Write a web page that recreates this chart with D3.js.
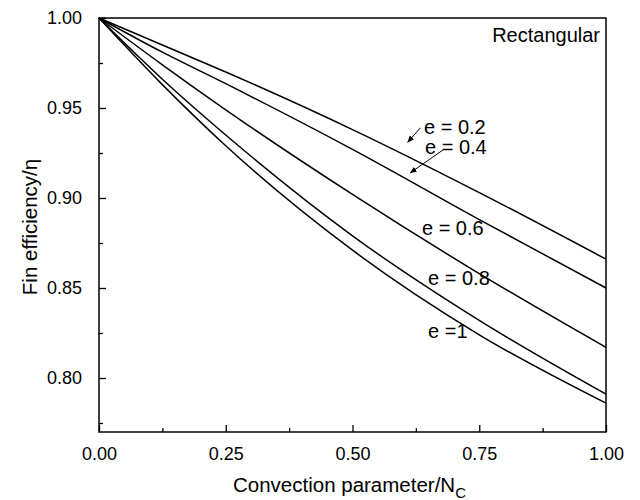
<!DOCTYPE html>
<html><head><meta charset="utf-8">
<script src="https://cdn.jsdelivr.net/npm/d3@7"></script>
<style>body{margin:0;background:#fff}svg{display:block}text{font-family:"Liberation Sans",Arial,sans-serif;fill:#000}</style>
</head><body><svg id="c" width="640" height="500"></svg>
<script>
const xValues = [0, 0.125, 0.25, 0.5, 0.75, 1.0];
const e02 = [1, 0.985, 0.970, 0.938, 0.903, 0.866];
const e04 = [1, 0.981, 0.9635, 0.927, 0.888, 0.850];
const e06 = [1, 0.974, 0.949, 0.902, 0.858, 0.817];
const e08 = [1, 0.966, 0.935, 0.879, 0.832, 0.791];
const e10 = [1, 0.963, 0.929, 0.871, 0.824, 0.786];
const seriesNames = ["e = 0.2", "e = 0.4", "e = 0.6", "e = 0.8", "e =1"];
const xTicks = [0, 0.25, 0.5, 0.75, 1.0];
const yTicks = [0.80, 0.85, 0.90, 0.95, 1.00];
const xMinor = [0.125, 0.375, 0.625, 0.875];
const yMinor = [0.775, 0.825, 0.875, 0.925, 0.975];

const series = [e02, e04, e06, e08, e10];
const svg = d3.select("#c");
const L = 99, R = 606, T = 18, B = 432;
const x = d3.scaleLinear().domain([0, 1]).range([L, R]);
const y = d3.scaleLinear().domain([0.77, 1.0]).range([B, T]);

// curves
const line = d3.line().x((d, i) => x(xValues[i])).y(d => y(d)).curve(d3.curveMonotoneX);
svg.append("g").selectAll("path").data(series).join("path")
  .attr("d", line).attr("fill", "none").attr("stroke", "#000").attr("stroke-width", 1.5);

// axes
const fmt = d3.format(".2f");
const gx = svg.append("g").attr("transform", `translate(0,${B})`)
  .call(d3.axisBottom(x).tickValues(xTicks).tickFormat(fmt).tickSizeInner(-7).tickSizeOuter(0).tickPadding(15));
gx.append("g").call(d3.axisBottom(x).tickValues(xMinor).tickFormat("").tickSizeInner(-4).tickSizeOuter(0));
const gy = svg.append("g").attr("transform", `translate(${L},0)`)
  .call(d3.axisLeft(y).tickValues(yTicks).tickFormat(fmt).tickSizeInner(-7).tickSizeOuter(0).tickPadding(17));
gy.append("g").call(d3.axisLeft(y).tickValues(yMinor).tickFormat("").tickSizeInner(-4).tickSizeOuter(0));
svg.selectAll(".domain").remove();
svg.selectAll(".tick line").attr("stroke", "#000").attr("stroke-width", 1.3);
svg.selectAll(".tick text").style("font-size", "18px").style("font-family", '"Liberation Sans",Arial,sans-serif');

// frame
svg.append("rect").attr("x", L).attr("y", T).attr("width", R - L).attr("height", B - T)
  .attr("fill", "none").attr("stroke", "#000").attr("stroke-width", 1.5);

// titles
svg.append("text").attr("x", (L + R) / 2 - 3).attr("y", 492).attr("text-anchor", "middle")
  .style("font-size", "20.5px").text("Convection parameter/N")
  .append("tspan").attr("dy", 6).style("font-size", "15px").text("C");
svg.append("text").attr("transform", `translate(37,${(T + B) / 2 + 2}) rotate(-90)`)
  .attr("text-anchor", "middle").style("font-size", "20.5px").text("Fin efficiency/η");
svg.append("text").attr("x", 600).attr("y", 42).attr("text-anchor", "end")
  .style("font-size", "20px").text("Rectangular");

// labels (positions in data units)
const labelPos = [[0.641, 0.9355], [0.643, 0.9245], [0.637, 0.8795], [0.649, 0.8515], [0.649, 0.8225]];
svg.append("g").selectAll("text").data(seriesNames).join("text")
  .attr("x", (d, i) => x(labelPos[i][0])).attr("y", (d, i) => y(labelPos[i][1]))
  .style("font-size", "20px").text(d => d);

// arrows
const defs = svg.append("defs");
defs.append("marker").attr("id", "ah").attr("viewBox", "0 0 10 10").attr("refX", 9).attr("refY", 5)
  .attr("markerWidth", 7).attr("markerHeight", 7).attr("orient", "auto")
  .append("path").attr("d", "M0,1 L10,5 L0,9 Z").attr("fill", "#000");
const arrows = [[[0.634, 0.9390], [0.609, 0.9310]], [[0.680, 0.9270], [0.614, 0.9140]]];
svg.append("g").selectAll("line").data(arrows).join("line")
  .attr("x1", d => x(d[0][0])).attr("y1", d => y(d[0][1]))
  .attr("x2", d => x(d[1][0])).attr("y2", d => y(d[1][1]))
  .attr("stroke", "#000").attr("stroke-width", 1).attr("marker-end", "url(#ah)");
</script></body></html>
